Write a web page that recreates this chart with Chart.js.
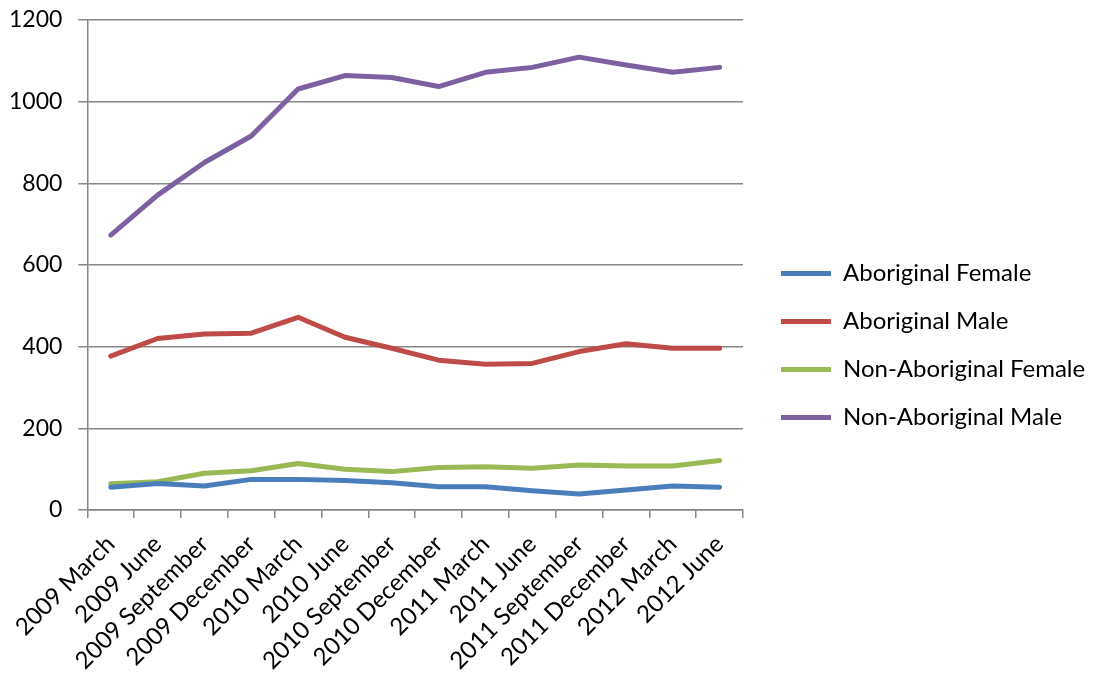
<!DOCTYPE html>
<html>
<head>
<meta charset="utf-8">
<script src="https://cdn.jsdelivr.net/npm/chart.js@4/dist/chart.umd.min.js"></script>
<style>
  html, body { margin: 0; padding: 0; background: #fff; }
  #wrap { width: 1099px; height: 675px; }
</style>
</head>
<body>
<div id="wrap"><canvas id="chart"></canvas></div>
<script>
// quarters along the x axis
const quarters = [
    '2009 March', '2009 June', '2009 September', '2009 December',
    '2010 March', '2010 June', '2010 September', '2010 December',
    '2011 March', '2011 June', '2011 September', '2011 December',
    '2012 March', '2012 June'
];

// values
const aboriginalFemale    = [56, 65, 59, 75, 75, 72, 67, 57, 57, 47, 39, 49, 59, 56];
const aboriginalMale      = [377, 420, 431, 433, 472, 423, 396, 367, 357, 359, 388, 407, 396, 396];
const nonAboriginalFemale = [64, 69, 90, 96, 114, 100, 94, 104, 106, 102, 110, 108, 108, 121];
const nonAboriginalMale   = [673, 771, 851, 916, 1031, 1064, 1059, 1037, 1072, 1084, 1109, 1090, 1072, 1084];

const yTicks = [0, 200, 400, 600, 800, 1000, 1200];

const FONT = 'Lato, "Open Sans", sans-serif';
const GRID = '#868686';

function serie(label, data, color) {
    return {
        label: label,
        data: data,
        borderColor: color,
        backgroundColor: color,
        borderWidth: 5,
        pointRadius: 0,
        tension: 0,
        borderCapStyle: 'round',
        borderJoinStyle: 'round'
    };
}

// legend sits a little away from the plot, like the original
const legendNudge = {
    id: 'legendNudge',
    afterInit(chart) {
        const lg = chart.legend;
        const fit = lg.fit.bind(lg);
        lg.fit = function () { fit(); this.width = 356; };
    },
    afterLayout(chart) {
        chart.legend.left += 14;
        chart.legend.top -= 4;
    }
};

function build() {
    const ctx = document.getElementById('chart').getContext('2d');
    new Chart(ctx, {
        type: 'line',
        data: {
            labels: quarters,
            datasets: [
                serie('Aboriginal Female', aboriginalFemale, '#4A7EBB'),
                serie('Aboriginal Male', aboriginalMale, '#BE4B48'),
                serie('Non-Aboriginal Female', nonAboriginalFemale, '#98B954'),
                serie('Non-Aboriginal Male', nonAboriginalMale, '#7D60A0')
            ]
        },
        plugins: [legendNudge],
        options: {
            responsive: true,
            maintainAspectRatio: false,
            animation: false,
            layout: { padding: { top: 20, left: -7, right: 0, bottom: 0 } },
            plugins: {
                tooltip: { enabled: false },
                legend: {
                    position: 'right',
                    labels: {
                        color: '#000',
                        font: { family: FONT, size: 24 },
                        boxWidth: 50,
                        boxHeight: 5,
                        padding: 24,
                        generateLabels: (chart) => {
                            const items = Chart.defaults.plugins.legend.labels.generateLabels(chart);
                            items.forEach(it => { it.lineWidth = 0; });
                            return items;
                        }
                    }
                }
            },
            scales: {
                x: {
                    offset: true,
                    afterFit: (axis) => { axis.height = 165; },
                    grid: {
                        offset: true,
                        drawOnChartArea: false,
                        drawTicks: true,
                        tickLength: 8,
                        color: GRID,
                        lineWidth: 1.5
                    },
                    border: { color: GRID, width: 1.5 },
                    ticks: {
                        color: '#000',
                        font: { family: FONT, size: 24 },
                        maxRotation: 45,
                        minRotation: 45,
                        autoSkip: false,
                        padding: 12
                    }
                },
                y: {
                    min: 0,
                    max: 1200,
                    afterBuildTicks: (axis) => { axis.ticks = yTicks.map(v => ({ value: v })); },
                    afterFit: (axis) => { axis.paddingTop = 14; axis.paddingBottom = 14; },
                    grid: {
                        color: GRID,
                        lineWidth: 1.5,
                        drawTicks: true,
                        tickLength: 9
                    },
                    border: { color: GRID, width: 1.5 },
                    ticks: {
                        color: '#000',
                        font: { family: FONT, size: 23 },
                        padding: 16,
                        callback: (v) => String(v)
                    }
                }
            }
        }
    });
}

document.fonts.load('24px Lato').then(build, build);
</script>
</body>
</html>
